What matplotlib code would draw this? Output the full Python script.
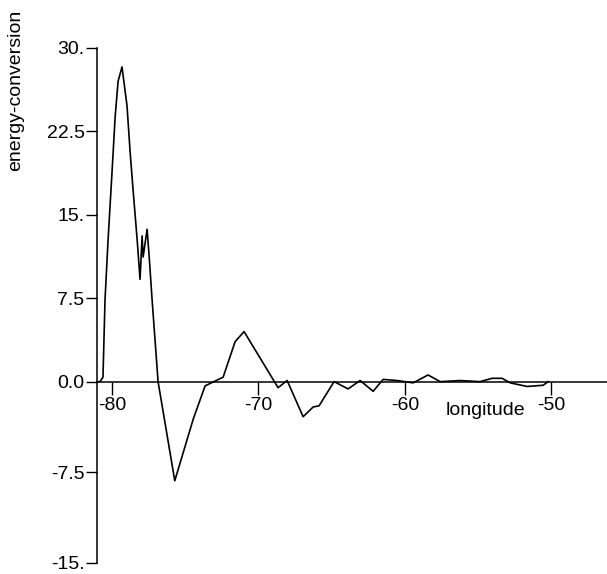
import matplotlib
matplotlib.use("Agg")
import matplotlib.pyplot as plt
import numpy as np

# ---------- data ----------
longitude = [-81.0, -80.8, -80.6, -80.46, -80.25, -79.98, -79.77, -79.57, -79.3, -78.96,
             -78.75, -78.55, -78.27, -78.07, -77.93, -77.86, -77.59, -77.45, -77.25, -76.84,
             -75.7, -74.44, -73.63, -72.4, -71.58, -70.97, -68.65, -68.03, -66.94, -66.26,
             -65.85, -64.83, -63.87, -63.05, -62.16, -61.48, -60.53, -59.43, -58.41, -57.59,
             -56.22, -54.86, -54.04, -53.36, -52.81, -51.65, -50.56, -50.22]
energy = [0.0, 0.0, 0.4, 7.4, 12.8, 18.9, 23.8, 27.0, 28.3, 24.8,
          20.7, 17.3, 12.8, 9.2, 13.1, 11.2, 13.7, 11.3, 7.4, 0.0,
          -8.2, -3.1, -0.35, 0.4, 3.6, 4.5, -0.5, 0.1, -2.9, -2.1,
          -2.0, 0.0, -0.6, 0.1, -0.8, 0.2, 0.1, -0.1, 0.6, 0.0,
          0.1, 0.0, 0.3, 0.3, -0.1, -0.4, -0.3, 0.0]

y_ticks = [-15, -7.5, 0, 7.5, 15, 22.5, 30]
y_tick_labels = ["-15.", "-7.5", "0.0", "7.5", "15.", "22.5", "30."]
x_ticks = [-80, -70, -60, -50]
x_tick_labels = ["-80", "-70", "-60", "-50"]

plt.rcParams["font.family"] = ["Liberation Sans", "DejaVu Sans"]
plt.rcParams["axes.unicode_minus"] = False

# the scanned original is stretched a bit more below zero than above
NEG_STRETCH = 1.087

def fwd(y):
    y = np.asarray(y, dtype=float)
    return np.where(y < 0, y * NEG_STRETCH, y)

def inv(y):
    y = np.asarray(y, dtype=float)
    return np.where(y < 0, y / NEG_STRETCH, y)

fig = plt.figure(figsize=(6.07, 5.74), dpi=100)
ax = fig.add_axes([0.16, 0.0192, 0.84, 0.8972])

ax.plot(longitude, energy, color="black", lw=1.2)

ax.set_yscale("function", functions=(fwd, inv))
ax.set_xlim(-81.0, -46.2)
ax.set_ylim(-15, 30)

# spines: left axis plus a horizontal axis through zero
ax.spines["top"].set_visible(False)
ax.spines["right"].set_visible(False)
ax.spines["bottom"].set_position(("data", 0))
for s in ("left", "bottom"):
    ax.spines[s].set_linewidth(1.1)

ax.set_yticks(y_ticks)
ax.set_yticklabels(y_tick_labels)
ax.minorticks_off()
ax.set_xticks(x_ticks)
ax.set_xticklabels(x_tick_labels)
ax.tick_params(axis="y", direction="out", length=8, width=1, labelsize=14, pad=1)
ax.tick_params(axis="x", direction="out", length=9, width=1, labelsize=14, pad=2)

ax.text(-54.5, -2.4, "longitude", ha="center", va="center", fontsize=14)
fig.text(0.025, 0.983, "energy-conversion", rotation=90, ha="center", va="top", fontsize=14)

fig.savefig("out.png", dpi=100)
